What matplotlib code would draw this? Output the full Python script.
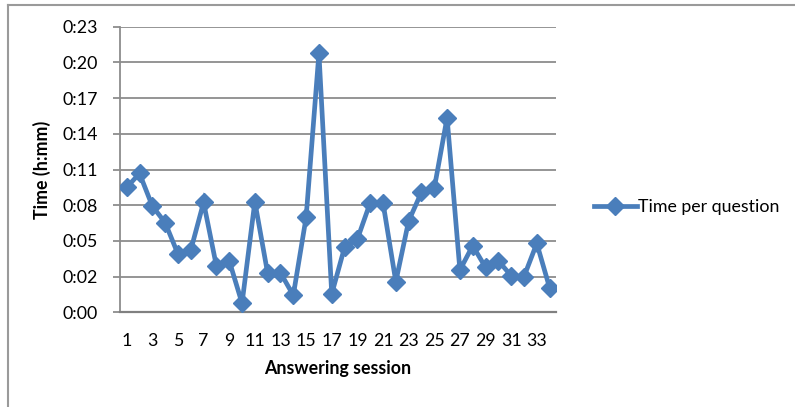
import matplotlib
matplotlib.use("Agg")
import matplotlib.pyplot as plt
from matplotlib.lines import Line2D

plt.rcParams['font.family'] = ['Lato', 'DejaVu Sans']

sessions = list(range(1, 35))
minutes = [10.08, 11.2, 8.57, 7.23, 4.7, 5.02, 8.87, 3.73, 4.16, 0.73,
           8.92, 3.14, 3.19, 1.37, 7.66, 20.9, 1.48, 5.24, 5.9, 8.84,
           8.84, 2.47, 7.36, 9.68, 10.0, 15.7, 3.41, 5.37, 3.63, 4.16,
           2.95, 2.87, 5.56, 1.98]
y_tick_values = [0, 2.88, 5.76, 8.64, 11.52, 14.4, 17.28, 20.16, 23.04]
y_tick_labels = ['0:00', '0:02', '0:05', '0:08', '0:11', '0:14', '0:17', '0:20', '0:23']
x_tick_values = list(range(1, 35, 2))
x_tick_labels = [str(v) for v in x_tick_values]

blue = '#4A7EBB'
W, H = 795, 407
fs = 12.8
fig = plt.figure(figsize=(W / 100, H / 100), dpi=100)
ax = fig.add_axes([120.3 / W, 1 - 312.3 / H, (556 - 120.3) / W, (312.3 - 26.7) / H])

ax.plot(sessions, minutes, color=blue, lw=3.4, marker='D', markersize=9,
        markerfacecolor=blue, markeredgecolor=blue, solid_joinstyle='miter',
        label='Time per question', zorder=3)

ax.set_xlim(0.5, 34.5)
ax.set_ylim(0, 23.04)
ax.set_yticks(y_tick_values)
ax.set_yticklabels(y_tick_labels)
ax.set_xticks(x_tick_values)
ax.set_xticklabels(x_tick_labels)
ax.yaxis.grid(True, color='#8c8c8c', lw=1.3)
ax.set_axisbelow(True)
for s in ['top', 'right']:
    ax.spines[s].set_visible(False)
ax.spines['left'].set_color('#8c8c8c')
ax.spines['left'].set_linewidth(1.3)
ax.spines['bottom'].set_color('#808080')
ax.spines['bottom'].set_linewidth(1.6)
ax.tick_params(axis='y', length=5, color='#8c8c8c', width=1.3, pad=11, labelsize=fs)
ax.tick_params(axis='x', length=0, pad=15, labelsize=fs)

ax.set_xlabel('Answering session', fontsize=fs, fontweight='bold', labelpad=8)
ax.set_ylabel('Time (h:mm)', fontsize=fs, fontweight='bold', labelpad=8)

ax.legend(loc='center left', bbox_to_anchor=(585 / W, 1 - 207 / H),
          bbox_transform=fig.transFigure, frameon=False, fontsize=fs,
          handlelength=2.4, handletextpad=0.1, borderpad=0)

# chart area border
fig.add_artist(Line2D([8 / W, 1.0], [1 - 5 / H, 1 - 5 / H], transform=fig.transFigure,
                      color='#9a9a9a', lw=1.5))
fig.add_artist(Line2D([8 / W, 8 / W], [0, 1 - 5 / H], transform=fig.transFigure,
                      color='#9a9a9a', lw=1.5))

fig.savefig('out.png', dpi=100)
